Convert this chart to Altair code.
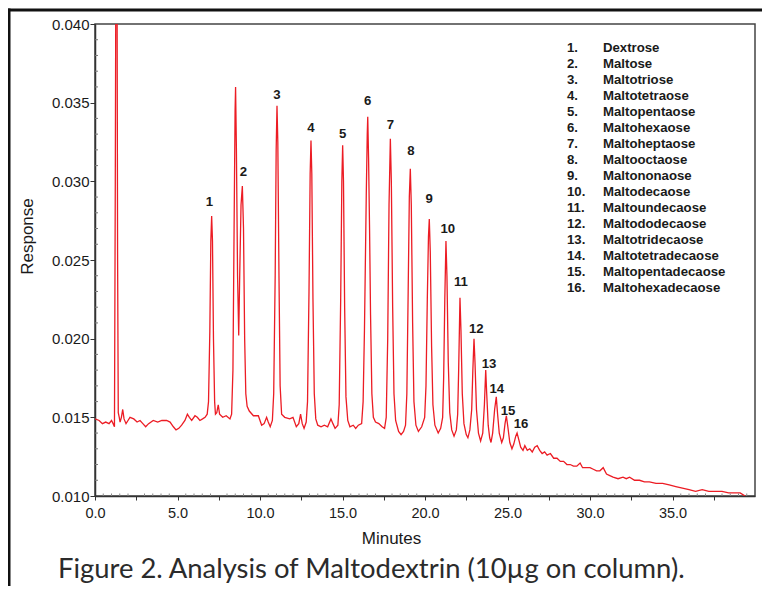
import altair as alt
import pandas as pd

# ---- chromatogram trace (minutes, response) ----
minutes = [
    0.00, 0.25, 0.45, 0.65, 0.85, 1.00, 1.10, 1.18, 1.23, 1.27, 1.33, 1.37, 1.41,
    1.47, 1.52, 1.60, 1.68, 1.76, 1.88, 2.00, 2.12, 2.35, 2.55, 2.73, 2.90, 3.07,
    3.25, 3.53, 3.80, 4.05, 4.34, 4.55, 4.75, 4.91, 5.08, 5.25, 5.45, 5.60, 5.72,
    5.86, 6.06, 6.20, 6.36, 6.52, 6.67, 6.80,
    6.88, 6.96, 7.02, 7.07, 7.12, 7.18, 7.25, 7.30, 7.38, 7.47, 7.55, 7.74, 7.95,
    8.18, 8.28,
    8.36, 8.43, 8.49, 8.52, 8.57, 8.64, 8.71, 8.77, 8.85, 8.93, 9.00, 9.07, 9.14,
    9.22, 9.35, 9.60, 9.90, 10.10, 10.25, 10.40, 10.50, 10.62, 10.75,
    10.83, 10.92, 10.98, 11.03, 11.08, 11.15, 11.22, 11.31, 11.50, 11.80, 12.00,
    12.20, 12.35, 12.46, 12.56, 12.67, 12.80,
    12.88, 12.97, 13.04, 13.09, 13.14, 13.21, 13.29, 13.38, 13.50, 13.70, 13.90,
    14.10, 14.30, 14.42, 14.55, 14.72,
    14.80, 14.89, 14.96, 15.01, 15.06, 15.13, 15.21, 15.32, 15.45, 15.65, 15.80,
    15.96, 16.16,
    16.25, 16.33, 16.38, 16.44, 16.50, 16.53, 16.58, 16.64, 16.70, 16.78, 16.87,
    17.00, 17.20, 17.40, 17.55,
    17.65, 17.74, 17.82, 17.90, 17.96, 18.04, 18.12, 18.22, 18.40, 18.55, 18.70, 18.82,
    18.90, 18.98, 19.05, 19.11, 19.17, 19.25, 19.33, 19.45, 19.60, 19.80, 19.98,
    20.06, 20.14, 20.21, 20.26, 20.32, 20.40, 20.48, 20.60, 20.80, 20.95, 21.07,
    21.13, 21.20, 21.27, 21.33, 21.41, 21.50, 21.62, 21.76, 21.90, 21.98,
    22.04, 22.12, 22.18, 22.26, 22.36, 22.50, 22.60, 22.72, 22.83,
    22.90, 22.97, 23.03, 23.12, 23.24, 23.37, 23.50, 23.60,
    23.68, 23.74, 23.83, 23.92, 24.00, 24.10, 24.22,
    24.32, 24.40, 24.50, 24.65, 24.75, 24.85,
    24.93, 25.02, 25.14, 25.27, 25.38, 25.50,
    25.58, 25.68, 25.80, 25.94, 26.05, 26.20, 26.35, 26.50, 26.65, 26.80, 26.95,
    27.10, 27.25, 27.40, 27.60, 27.80, 28.00, 28.20, 28.40, 28.60, 28.80, 29.00,
    29.20, 29.40, 29.55, 29.80, 30.00, 30.20, 30.40, 30.60, 30.80, 31.00, 31.20,
    31.40, 31.70, 32.00, 32.20, 32.40, 32.70, 33.00, 33.30, 33.60, 34.00, 34.40,
    34.80, 35.20, 35.60, 36.00, 36.40, 36.80, 37.20, 37.60, 38.00, 38.40, 38.80,
    39.10, 39.40,
]
response = [
    0.0149, 0.0148, 0.0146, 0.0147, 0.0146, 0.0148, 0.0146, 0.0144, 0.0300, 0.0460, 0.0460, 0.0250, 0.0153,
    0.0150, 0.0147, 0.0150, 0.0155, 0.0149, 0.0146, 0.0148, 0.0150, 0.0149, 0.0147, 0.0148, 0.0146, 0.0144,
    0.0146, 0.0148, 0.0147, 0.0148, 0.0148, 0.0147, 0.0144, 0.0142, 0.0143, 0.0145, 0.0148, 0.0152, 0.0150,
    0.0148, 0.0151, 0.0150, 0.0148, 0.0149, 0.0150, 0.0152,
    0.0160, 0.0205, 0.0262, 0.0278, 0.0262, 0.0200, 0.0160, 0.0152, 0.0153, 0.0158, 0.0152, 0.0150, 0.0151,
    0.0149, 0.0152,
    0.0180, 0.0270, 0.0345, 0.0360, 0.0320, 0.0240, 0.0202, 0.0240, 0.0285, 0.0297, 0.0270, 0.0200, 0.0165,
    0.0157, 0.0154, 0.0151, 0.0151, 0.0145, 0.0146, 0.0150, 0.0147, 0.0144, 0.0148,
    0.0165, 0.0240, 0.0320, 0.0348, 0.0325, 0.0240, 0.0170, 0.0152, 0.0150, 0.0149, 0.0150,
    0.0144, 0.0146, 0.0152, 0.0146, 0.0143, 0.0147,
    0.0160, 0.0230, 0.0305, 0.0326, 0.0305, 0.0225, 0.0165, 0.0149, 0.0145, 0.0144, 0.0145,
    0.0144, 0.0149, 0.0146, 0.0143, 0.0145,
    0.0158, 0.0225, 0.0300, 0.0323, 0.0300, 0.0220, 0.0163, 0.0148, 0.0144, 0.0145, 0.0143,
    0.0145, 0.0146,
    0.0160, 0.0205, 0.0244, 0.0291, 0.0330, 0.0341, 0.0315, 0.0270, 0.0215, 0.0165, 0.0150,
    0.0147, 0.0146, 0.0144, 0.0143,
    0.0150, 0.0200, 0.0285, 0.0327, 0.0300, 0.0220, 0.0165, 0.0148, 0.0141, 0.0139, 0.0141, 0.0145,
    0.0165, 0.0230, 0.0290, 0.0308, 0.0285, 0.0210, 0.0160, 0.0145, 0.0141, 0.0144, 0.0150,
    0.0170, 0.0225, 0.0265, 0.0276, 0.0255, 0.0195, 0.0158, 0.0145, 0.0140, 0.0143, 0.0150,
    0.0175, 0.0225, 0.0262, 0.0240, 0.0185, 0.0153, 0.0142, 0.0138, 0.0142, 0.0152,
    0.0180, 0.0226, 0.0205, 0.0165, 0.0146, 0.0139, 0.0137, 0.0142, 0.0155,
    0.0180, 0.0200, 0.0185, 0.0155, 0.0140, 0.0135, 0.0140, 0.0158,
    0.0180, 0.0165, 0.0145, 0.0137, 0.0134, 0.0140, 0.0155,
    0.0163, 0.0152, 0.0140, 0.0134, 0.0137, 0.0146,
    0.0151, 0.0144, 0.0134, 0.0130, 0.0133, 0.0138,
    0.0140, 0.0136, 0.0131, 0.0129, 0.0132, 0.0129, 0.0130, 0.0128, 0.0131, 0.0132, 0.0129,
    0.0127, 0.0128, 0.0126, 0.0127, 0.0124, 0.0124, 0.0122, 0.0122, 0.0120, 0.0120, 0.0119,
    0.0119, 0.0121, 0.0118, 0.0118, 0.0118, 0.0117, 0.0116, 0.0116, 0.0118, 0.0114, 0.0113,
    0.0112, 0.0111, 0.0112, 0.0111, 0.0112, 0.0110, 0.0110, 0.0109, 0.0109, 0.0108, 0.0108,
    0.0107, 0.0106, 0.0105, 0.0104, 0.0103, 0.0104, 0.0103, 0.0103, 0.0103, 0.0102, 0.0102,
    0.0102, 0.0100,
]

# ---- peak number labels (placed just above each apex) ----
peak_ids = [str(i) for i in range(1, 17)]
label_t = [6.93, 8.99, 11.03, 13.09, 15.01, 16.53, 17.90, 19.15,
           20.26, 21.38, 22.18, 23.11, 23.88, 24.35, 25.03, 25.82]
label_r = [0.0287, 0.0306, 0.0355, 0.0334, 0.0330, 0.0351, 0.0336, 0.0319,
           0.0289, 0.0270, 0.0236, 0.0206, 0.0184, 0.0168, 0.0154, 0.0146]

# ---- legend list ----
legend_nums = [f"{i}." for i in range(1, 17)]
legend_names = [
    "Dextrose", "Maltose", "Maltotriose", "Maltotetraose", "Maltopentaose",
    "Maltohexaose", "Maltoheptaose", "Maltooctaose", "Maltononaose",
    "Maltodecaose", "Maltoundecaose", "Maltododecaose", "Maltotridecaose",
    "Maltotetradecaose", "Maltopentadecaose", "Maltohexadecaose",
]

x_ticks = [0, 2.5, 5, 7.5, 10, 12.5, 15, 17.5, 20, 22.5, 25, 27.5, 30, 32.5, 35, 37.5]
y_ticks = [0.010, 0.015, 0.020, 0.025, 0.030, 0.035, 0.040]
y_minor = [0.011, 0.012, 0.013, 0.014, 0.016, 0.017, 0.018, 0.019, 0.021, 0.022,
           0.023, 0.024, 0.026, 0.027, 0.028, 0.029, 0.031, 0.032, 0.033, 0.034,
           0.036, 0.037, 0.038, 0.039]
x_minor = [0.5, 1, 1.5, 2, 3, 3.5, 4, 4.5, 5.5, 6, 6.5, 7, 8, 8.5, 9, 9.5,
           10.5, 11, 11.5, 12, 13, 13.5, 14, 14.5, 15.5, 16, 16.5, 17, 18, 18.5,
           19, 19.5, 20.5, 21, 21.5, 22, 23, 23.5, 24, 24.5, 25.5, 26, 26.5, 27,
           28, 28.5, 29, 29.5, 30.5, 31, 31.5, 32, 33, 33.5, 34, 34.5, 35.5, 36,
           36.5, 37, 38, 38.5, 39, 39.5]

caption = "Figure 2. Analysis of Maltodextrin (10\u00b5g on column)."

RED = "#ec1c24"
INK = "#1a1a1a"
FONT = "Liberation Sans"

xs = alt.Scale(domain=[0, 40], nice=False, zero=False)
ys = alt.Scale(domain=[0.010, 0.040], nice=False, zero=False)

line_df = pd.DataFrame({"t": minutes, "r": response})

trace = alt.Chart(line_df).mark_line(color=RED, strokeWidth=1.3, clip=True).encode(
    x=alt.X("t:Q", scale=xs, axis=alt.Axis(
        values=x_ticks, labelExpr="datum.value % 5 == 0 ? format(datum.value, '.1f') : ''",
        tickSize=4, tickColor="#333", domainColor="#333", domainWidth=1.5,
        labelFont=FONT, labelFontSize=14.5, labelColor=INK, labelPadding=6,
        labelFlush=False, labelOverlap=False, grid=False,
        title="Minutes", titleFont=FONT, titleFontSize=17, titleFontWeight="normal",
        titleColor=INK, titleX=296, titleY=42, titleBaseline="middle", titleAlign="center")),
    y=alt.Y("r:Q", scale=ys, axis=alt.Axis(
        values=y_ticks, format=".3f", tickSize=5, tickColor="#333", domainColor="#333",
        domainWidth=1.5, labelFont=FONT, labelFontSize=15, labelColor=INK, labelPadding=1,
        labelFlush=False, labelOverlap=False, grid=False,
        title="Response", titleFont=FONT, titleFontSize=17, titleFontWeight="normal",
        titleColor=INK, titleX=-68, titleY=212, titleBaseline="middle", titleAlign="center",
        titleAngle=270)),
)

ymin_df = pd.DataFrame({"r": y_minor})
ymin = alt.Chart(ymin_df).mark_rule(color="#777", strokeWidth=1).encode(
    y=alt.Y("r:Q", scale=ys), x=alt.value(0), x2=alt.value(3))

xmin_df = pd.DataFrame({"t": x_minor})
xmin = alt.Chart(xmin_df).mark_rule(color="#888", strokeWidth=1).encode(
    x=alt.X("t:Q", scale=xs), y=alt.value(472), y2=alt.value(469.5))

lab_df = pd.DataFrame({"t": label_t, "r": label_r, "txt": peak_ids})
labels = alt.Chart(lab_df).mark_text(font=FONT, fontSize=13.2, fontWeight="bold",
                                     color=INK, baseline="middle", align="center").encode(
    x=alt.X("t:Q", scale=xs), y=alt.Y("r:Q", scale=ys), text="txt:N")

leg_df = pd.DataFrame({"num": legend_nums, "name": legend_names,
                       "i": list(range(len(legend_names)))})
leg_base = alt.Chart(leg_df).transform_calculate(
    r="0.040 - (24.3 + 16 * datum.i) * 0.030 / 472")
leg_nums = leg_base.mark_text(font=FONT, fontSize=13.2, fontWeight="bold", color=INK,
                              align="left", baseline="middle").encode(
    x=alt.value(472), y=alt.Y("r:Q", scale=ys), text="num:N")
leg_names = leg_base.mark_text(font=FONT, fontSize=13.2, fontWeight="bold", color=INK,
                               align="left", baseline="middle").encode(
    x=alt.value(508), y=alt.Y("r:Q", scale=ys), text="name:N")

one = pd.DataFrame({"c": [caption]})
cap = alt.Chart(one).mark_text(font="Lato", fontSize=27.4, color="#2b2b2b", align="left",
                               baseline="alphabetic").encode(
    x=alt.value(-37), y=alt.value(554), text="c:N")

frame_top = alt.Chart(one).mark_rule(color="#111", strokeWidth=3).encode(
    x=alt.value(-87), x2=alt.value(667), y=alt.value(-14))
frame_left = alt.Chart(one).mark_rule(color="#111", strokeWidth=3).encode(
    x=alt.value(-86), y=alt.value(-15.5), y2=alt.value(562))

chart = alt.layer(trace, ymin, xmin, labels, leg_nums, leg_names, cap,
                  frame_top, frame_left).properties(
    width=660, height=472,
    padding={"left": 87, "top": 16, "right": 7, "bottom": 90},
    autosize=alt.AutoSizeParams(type="none"),
    background="white",
).configure_view(stroke="#444", strokeWidth=1.5)

chart.save("out.html", embed_options={"renderer": "svg", "actions": False})
